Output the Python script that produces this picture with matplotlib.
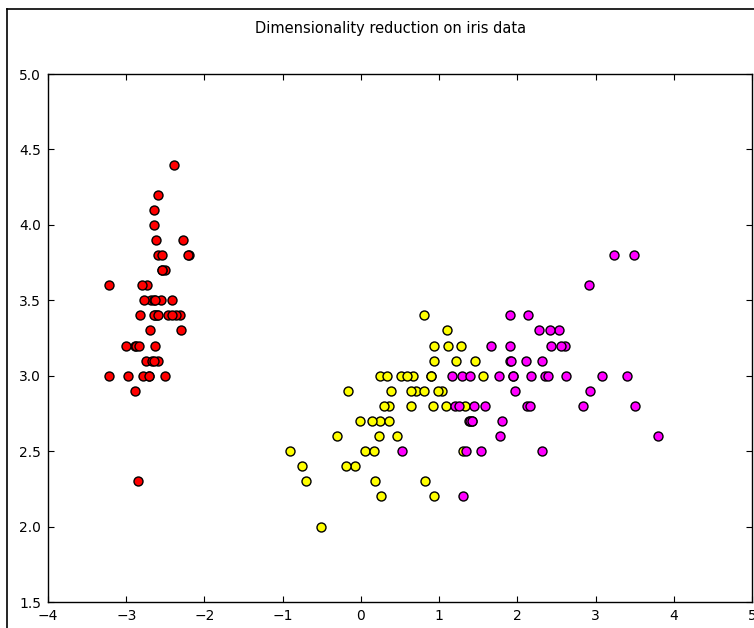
import matplotlib
matplotlib.use("Agg")
import matplotlib.pyplot as plt
from matplotlib.lines import Line2D

# Data: x = first principal component, y = sepal width
setosa_x = [-2.68, -2.71, -2.89, -2.75, -2.73, -2.28, -2.82, -2.63, -2.89, -2.67,
            -2.51, -2.61, -2.79, -3.22, -2.64, -2.39, -2.62, -2.65, -2.20, -2.59,
            -2.31, -2.54, -3.22, -2.30, -2.36, -2.51, -2.47, -2.56, -2.64, -2.63,
            -2.59, -2.41, -2.65, -2.60, -2.64, -2.87, -2.63, -2.80, -2.98, -2.59,
            -2.77, -2.85, -3.00, -2.41, -2.21, -2.71, -2.54, -2.84, -2.54, -2.70]
setosa_y = [3.5, 3.0, 3.2, 3.1, 3.6, 3.9, 3.4, 3.4, 2.9, 3.1,
            3.7, 3.4, 3.0, 3.0, 4.0, 4.4, 3.9, 3.5, 3.8, 3.8,
            3.4, 3.7, 3.6, 3.3, 3.4, 3.0, 3.4, 3.5, 3.4, 3.2,
            3.1, 3.4, 4.1, 4.2, 3.1, 3.2, 3.5, 3.6, 3.0, 3.4,
            3.5, 2.3, 3.2, 3.5, 3.8, 3.0, 3.8, 3.2, 3.7, 3.3]

versicolor_x = [1.28, 0.93, 1.46, 0.18, 1.09, 0.64, 1.10, -0.75, 1.04, -0.01,
                -0.51, 0.51, 0.26, 0.98, -0.17, 0.93, 0.66, 0.24, 0.94, 0.05,
                1.12, 0.36, 1.30, 0.92, 0.71, 0.90, 1.33, 1.56, 0.81, -0.31,
                -0.07, -0.19, 0.14, 1.38, 0.59, 0.81, 1.22, 0.82, 0.25, 0.17,
                0.46, 0.89, 0.23, -0.70, 0.36, 0.33, 0.38, 0.64, -0.91, 0.30]
versicolor_y = [3.2, 3.2, 3.1, 2.3, 2.8, 2.8, 3.3, 2.4, 2.9, 2.7,
                2.0, 3.0, 2.2, 2.9, 2.9, 3.1, 3.0, 2.7, 2.2, 2.5,
                3.2, 2.8, 2.5, 2.8, 2.9, 3.0, 2.8, 3.0, 2.9, 2.6,
                2.4, 2.4, 2.7, 2.7, 3.0, 3.4, 3.1, 2.3, 3.0, 2.5,
                2.6, 3.0, 2.6, 2.3, 2.7, 3.0, 2.9, 2.9, 2.5, 2.8]

virginica_x = [2.53, 1.42, 2.62, 1.97, 2.35, 3.40, 0.52, 2.93, 2.32, 2.92,
               1.66, 1.80, 2.17, 1.35, 1.59, 1.90, 1.95, 3.49, 3.80, 1.30,
               2.43, 1.20, 3.50, 1.39, 2.28, 2.61, 1.26, 1.29, 2.12, 2.39,
               2.84, 3.23, 2.16, 1.44, 1.78, 3.08, 2.14, 1.91, 1.17, 2.11,
               2.31, 1.92, 1.42, 2.56, 2.42, 1.94, 1.53, 1.76, 1.90, 1.39]
virginica_y = [3.3, 2.7, 3.0, 2.9, 3.0, 3.0, 2.5, 2.9, 2.5, 3.6,
               3.2, 2.7, 3.0, 2.5, 2.8, 3.2, 3.0, 3.8, 2.6, 2.2,
               3.2, 2.8, 2.8, 2.7, 3.3, 3.2, 2.8, 3.0, 2.8, 3.0,
               2.8, 3.8, 2.8, 2.8, 2.6, 3.0, 3.4, 3.1, 3.0, 3.1,
               3.1, 3.1, 2.7, 3.2, 3.3, 3.0, 2.5, 3.0, 3.4, 3.0]

x_ticks = [-4, -3, -2, -1, 0, 1, 2, 3, 4, 5]
y_ticks = [1.5, 2.0, 2.5, 3.0, 3.5, 4.0, 4.5, 5.0]
title = "Dimensionality reduction on iris data"

W, H, DPI = 754, 628, 100
fig = plt.figure(figsize=(W / DPI, H / DPI), dpi=DPI, facecolor="white")
ax = fig.add_axes([48 / W, 26 / H, (752 - 48) / W, (602 - 74) / H])

for xs, ys, c in [(setosa_x, setosa_y, "red"),
                  (versicolor_x, versicolor_y, "yellow"),
                  (virginica_x, virginica_y, "magenta")]:
    ax.scatter(xs, ys, s=42, c=c, edgecolors="black", linewidths=1, zorder=3)

ax.set_xlim(-4, 5)
ax.set_ylim(1.5, 5.0)
ax.set_xticks(x_ticks)
ax.set_yticks(y_ticks)
ax.set_xticklabels([str(t).replace("-", "\u2212") for t in x_ticks])
ax.set_yticklabels([f"{t:.1f}" for t in y_ticks])
ax.tick_params(direction="in", length=4, width=0.8, top=True, right=True,
               labelsize=10, colors="black", pad=5)
for sp in ax.spines.values():
    sp.set_linewidth(1.0)
    sp.set_color("black")

fig.text(391 / W, 1 - 28 / H, title, ha="center", va="center", fontsize=10.5)

# figure frame edge visible in the crop
fig.add_artist(Line2D([7 / W, 7 / W], [0, 1 - 9 / H], transform=fig.transFigure,
                      color="black", linewidth=1.2))
fig.add_artist(Line2D([7 / W, 1], [1 - 9 / H, 1 - 9 / H], transform=fig.transFigure,
                      color="black", linewidth=1.2))

fig.savefig("out.png", dpi=DPI, facecolor="white")
